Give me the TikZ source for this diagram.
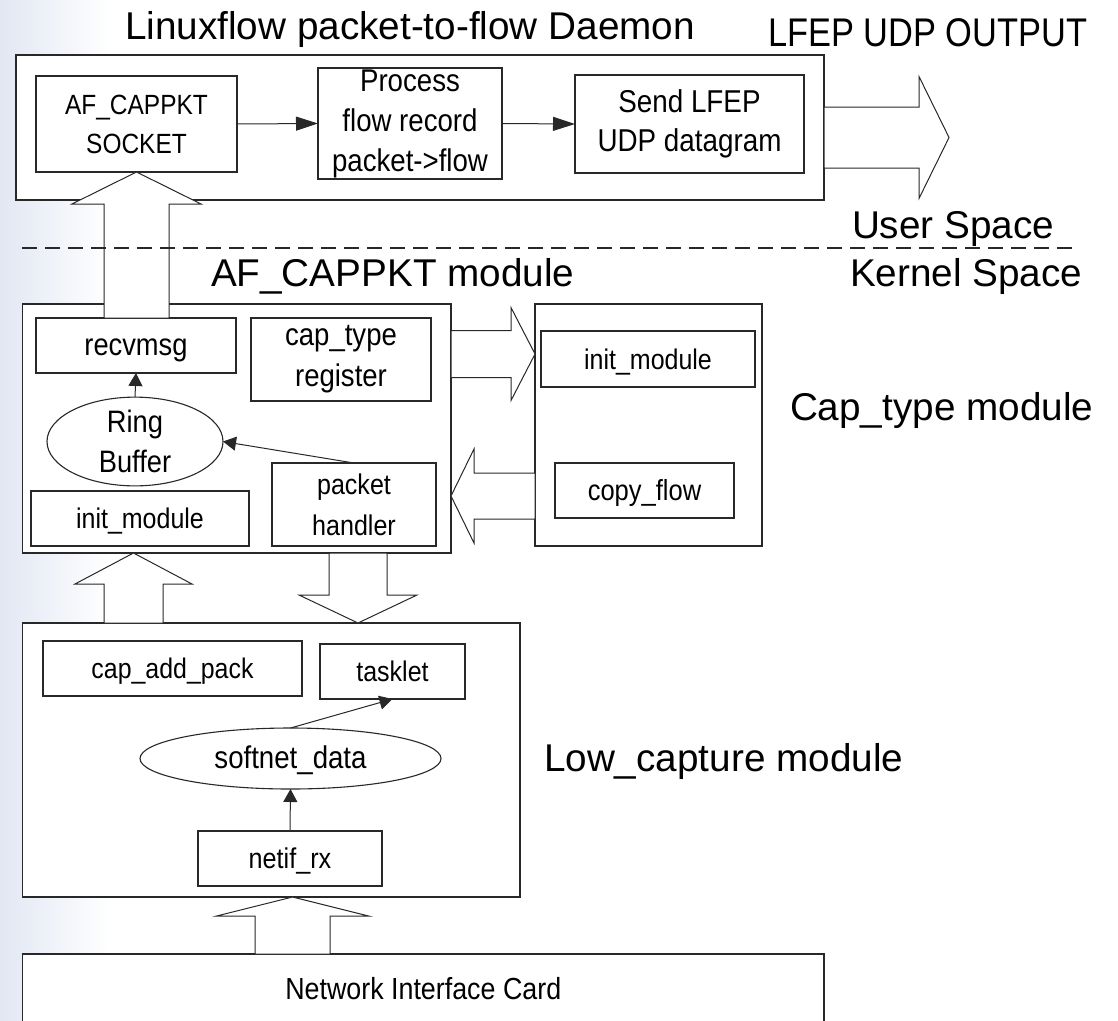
\documentclass[tikz,border=0pt]{standalone}
\usepackage{fontspec}
\setmainfont{Liberation Sans}
\newfontfamily\boxfont[FakeStretch=0.88]{Liberation Sans}
\newfontfamily\outfont[FakeStretch=0.86]{Liberation Sans}
\usetikzlibrary{arrows.meta,calc,shapes.geometric}

\definecolor{haze}{RGB}{226,231,243}
\definecolor{ink}{RGB}{40,40,40}

% block arrow along the y axis: tail, tip, shaft half-width, head half-width, head length, sign
\newcommand{\vblock}[6]{%
  \draw[blockarr] let \p1=(#1), \p2=(#2) in
    (\x2-#3,\y1) -- (\x2-#3,\y2#6#5) -- (\x2-#4,\y2#6#5) -- (\p2)
    -- (\x2+#4,\y2#6#5) -- (\x2+#3,\y2#6#5) -- (\x2+#3,\y1) -- cycle;}
% block arrow along the x axis
\newcommand{\hblock}[6]{%
  \draw[blockarr] let \p1=(#1), \p2=(#2) in
    (\x1,\y2-#3) -- (\x2#6#5,\y2-#3) -- (\x2#6#5,\y2-#4) -- (\p2)
    -- (\x2#6#5,\y2+#4) -- (\x2#6#5,\y2+#3) -- (\x1,\y2+#3) -- cycle;}

\begin{document}
\begin{tikzpicture}[x=1pt,y=-1pt,
  every node/.style={inner sep=0pt,outer sep=0pt},
  box/.style={draw=ink,line width=1.1pt,fill=white,rectangle},
  oval/.style={draw=ink,line width=1.1pt,fill=white,ellipse},
  oneline/.style={text height=24pt,text depth=4pt},
  lbl/.style={font=\fontsize{38.7}{46}\selectfont,anchor=base west},
  blockarr/.style={draw=ink,line width=1pt,fill=white,line join=miter},
  thin/.style={draw=ink,line width=1pt},
  bigtip/.style={thin,-{Triangle[length=22pt,width=14pt]}},
  smalltip/.style={thin,-{Triangle[length=13pt,width=14pt]}},
  split/.style={draw=ink,line width=1.1pt,dash pattern=on 15pt off 8pt}]

\useasboundingbox (0,0) rectangle (1118,1020);
\fill[white] (0,0) rectangle (1118,1020);
\shade[left color=haze,right color=white] (0,0) rectangle (110,1020);

% module frames
\node[box,minimum width=808pt,minimum height=145pt] (daemon) at (420,127.5) {};
\node[box,minimum width=428.5pt,minimum height=249pt] (af) at (236.75,428.5) {};
\node[box,minimum width=227pt,minimum height=242pt] (cap) at (648.5,425) {};
\node[box,minimum width=497.5pt,minimum height=274pt] (low) at (271.25,760) {};
\node[box,text height=22pt,text depth=2pt,minimum width=801.5pt,minimum height=70pt,
      font=\boxfont\fontsize{30.5}{40}\selectfont] (nic) at (423.25,989) {Network Interface Card};

% user-space daemon
\node[box,align=center,minimum width=201pt,minimum height=96pt,
      font=\boxfont\fontsize{27.8}{39}\selectfont] (sock) at (136.5,124) {AF\_CAPPKT\\SOCKET};
\node[box,align=center,minimum width=184pt,minimum height=111pt,
      font=\boxfont\fontsize{31.4}{40}\selectfont] (proc) at (410,123.5) {Process\\flow record\\packet->flow};
\node[box,align=center,minimum width=229pt,minimum height=98pt,
      font=\boxfont\fontsize{31.6}{39}\selectfont] (send) at (689.5,124) {Send LFEP\\UDP datagram};

% AF_CAPPKT module
\node[box,oneline,minimum width=200pt,minimum height=55pt,
      font=\boxfont\fontsize{31}{40}\selectfont] (recv) at (136,345.5) {recvmsg};
\node[box,align=center,minimum width=180pt,minimum height=83pt,
      font=\boxfont\fontsize{31.3}{41}\selectfont] (ctr) at (341,359.5) {cap\_type\\register};
\node[oval,align=center,minimum width=176pt,minimum height=69pt,
      font=\boxfont\fontsize{31}{40}\selectfont] (ring) at (135,441.5) {Ring\\Buffer};
\node[box,align=center,minimum width=164pt,minimum height=83pt,
      font=\boxfont\fontsize{28.5}{41}\selectfont] (ph) at (354,504.5) {packet\\handler};
\node[box,oneline,minimum width=218pt,minimum height=55pt,
      font=\boxfont\fontsize{28.4}{40}\selectfont] (initL) at (140,518.5) {init\_module};

% Cap_type module
\node[box,oneline,minimum width=214pt,minimum height=56pt,
      font=\boxfont\fontsize{28.4}{40}\selectfont] (initR) at (648,359) {init\_module};
\node[box,oneline,minimum width=179pt,minimum height=55pt,
      font=\boxfont\fontsize{29}{40}\selectfont] (copy) at (644.5,490.5) {copy\_flow};

% Low_capture module
\node[box,oneline,minimum width=259pt,minimum height=55pt,
      font=\boxfont\fontsize{28.3}{40}\selectfont] (cadd) at (172.5,668.5) {cap\_add\_pack};
\node[box,oneline,minimum width=145pt,minimum height=55pt,
      font=\boxfont\fontsize{28.4}{40}\selectfont] (task) at (392.5,671.5) {tasklet};
\node[oval,oneline,minimum width=301pt,minimum height=61pt,
      font=\boxfont\fontsize{31.4}{40}\selectfont] (soft) at (290.5,758.5) {softnet\_data};
\node[box,oneline,minimum width=184pt,minimum height=55pt,
      font=\boxfont\fontsize{28.6}{40}\selectfont] (netif) at (290,858.5) {netif\_rx};

% wide data-path arrows
\coordinate (outtip) at (949,137.5);
\hblock{[yshift=-82.5pt]daemon.north east}{outtip}{30.5pt}{61pt}{30pt}{-}
\vblock{recv.north}{sock.south}{32.5pt}{64.5pt}{32pt}{-}
\hblock{[yshift=-50pt]af.north east}{[yshift=-50pt]cap.north west}{23.5pt}{46.5pt}{24pt}{-}
\hblock{[yshift=-192pt]cap.north west}{[yshift=-192pt]af.north east}{23pt}{47pt}{23pt}{+}
\vblock{[xshift=111pt]low.north west}{[xshift=111pt]af.south west}{29.5pt}{58.5pt}{31pt}{-}
\vblock{[xshift=335.5pt]af.south west}{[xshift=335.5pt]low.north west}{29pt}{59pt}{28pt}{+}
\vblock{[xshift=270pt]nic.north west}{[xshift=270pt]low.south west}{37.5pt}{76pt}{19pt}{-}

% call flow inside the modules
\draw[bigtip] (sock.east) -- (proc.west);
\draw[bigtip] (proc.east) -- (send.west);
\draw[smalltip] (ring.north) -- (recv.south);
\draw[smalltip] (ph.north) -- (ring.east);
\draw[smalltip] (soft.north) -- (task.south);
\draw[smalltip] (netif.north) -- (soft.south);

% user / kernel boundary
\coordinate (splitL) at (22,248);
\coordinate (splitR) at (1074,248);
\draw[split] (splitL) -- (splitR);

% captions
\node[lbl] (tDaemon) at (125,39) {Linuxflow packet-to-flow Daemon};
\node[anchor=base west,font=\outfont\fontsize{40}{46}\selectfont] (tOut) at (768,46.5) {LFEP UDP OUTPUT};
\node[lbl] (tUser) at (852,238) {User Space};
\node[lbl] (tKernel) at (850,286) {Kernel Space};
\node[lbl] (tAf) at (211,286) {AF\_CAPPKT module};
\node[lbl] (tCap) at (790,420) {Cap\_type module};
\node[lbl] (tLow) at (544,771.5) {Low\_capture module};
\end{tikzpicture}
\end{document}
